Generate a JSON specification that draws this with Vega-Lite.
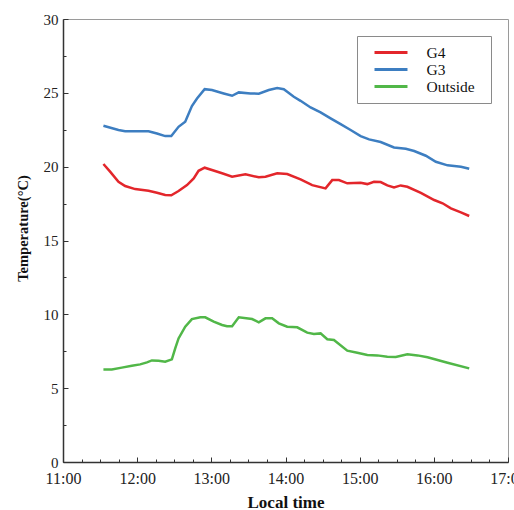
{
  "$schema": "https://vega.github.io/schema/vega-lite/v6.json",
  "width": 445,
  "height": 443,
  "autosize": "none",
  "padding": {"left": 63, "top": 19, "right": 6, "bottom": 48},
  "background": "white",
  "config": {
    "view": {"stroke": "#9a9a9a", "strokeWidth": 1},
    "font": "Liberation Serif"
  },
  "data": {
    "values": [
      {"hour": 11.545, "series": "G4", "temp": 20.18},
      {"hour": 11.635, "series": "G4", "temp": 19.66},
      {"hour": 11.748, "series": "G4", "temp": 18.98},
      {"hour": 11.838, "series": "G4", "temp": 18.69},
      {"hour": 11.973, "series": "G4", "temp": 18.48},
      {"hour": 12.153, "series": "G4", "temp": 18.37},
      {"hour": 12.267, "series": "G4", "temp": 18.23},
      {"hour": 12.378, "series": "G4", "temp": 18.08},
      {"hour": 12.46, "series": "G4", "temp": 18.06},
      {"hour": 12.558, "series": "G4", "temp": 18.35},
      {"hour": 12.672, "series": "G4", "temp": 18.75},
      {"hour": 12.762, "series": "G4", "temp": 19.2},
      {"hour": 12.828, "series": "G4", "temp": 19.72},
      {"hour": 12.91, "series": "G4", "temp": 19.93},
      {"hour": 13.008, "series": "G4", "temp": 19.77},
      {"hour": 13.145, "series": "G4", "temp": 19.55},
      {"hour": 13.28, "series": "G4", "temp": 19.32},
      {"hour": 13.46, "series": "G4", "temp": 19.48},
      {"hour": 13.64, "series": "G4", "temp": 19.28},
      {"hour": 13.73, "series": "G4", "temp": 19.32},
      {"hour": 13.888, "series": "G4", "temp": 19.55},
      {"hour": 14.023, "series": "G4", "temp": 19.5},
      {"hour": 14.203, "series": "G4", "temp": 19.14},
      {"hour": 14.36, "series": "G4", "temp": 18.75},
      {"hour": 14.54, "series": "G4", "temp": 18.53},
      {"hour": 14.63, "series": "G4", "temp": 19.09},
      {"hour": 14.72, "series": "G4", "temp": 19.09},
      {"hour": 14.833, "series": "G4", "temp": 18.87},
      {"hour": 15.013, "series": "G4", "temp": 18.91},
      {"hour": 15.103, "series": "G4", "temp": 18.82},
      {"hour": 15.193, "series": "G4", "temp": 18.98},
      {"hour": 15.283, "series": "G4", "temp": 18.96},
      {"hour": 15.373, "series": "G4", "temp": 18.73},
      {"hour": 15.463, "series": "G4", "temp": 18.6},
      {"hour": 15.553, "series": "G4", "temp": 18.73},
      {"hour": 15.643, "series": "G4", "temp": 18.64},
      {"hour": 15.825, "series": "G4", "temp": 18.23},
      {"hour": 16.005, "series": "G4", "temp": 17.74},
      {"hour": 16.118, "series": "G4", "temp": 17.52},
      {"hour": 16.23, "series": "G4", "temp": 17.18},
      {"hour": 16.365, "series": "G4", "temp": 16.9},
      {"hour": 16.477, "series": "G4", "temp": 16.66},
      {"hour": 11.545, "series": "G3", "temp": 22.77},
      {"hour": 11.748, "series": "G3", "temp": 22.48},
      {"hour": 11.838, "series": "G3", "temp": 22.4},
      {"hour": 12.153, "series": "G3", "temp": 22.4},
      {"hour": 12.267, "series": "G3", "temp": 22.25},
      {"hour": 12.378, "series": "G3", "temp": 22.07},
      {"hour": 12.46, "series": "G3", "temp": 22.07},
      {"hour": 12.558, "series": "G3", "temp": 22.7},
      {"hour": 12.648, "series": "G3", "temp": 23.04},
      {"hour": 12.738, "series": "G3", "temp": 24.1},
      {"hour": 12.807, "series": "G3", "temp": 24.62},
      {"hour": 12.91, "series": "G3", "temp": 25.25},
      {"hour": 13.008, "series": "G3", "temp": 25.19},
      {"hour": 13.167, "series": "G3", "temp": 24.96},
      {"hour": 13.28, "series": "G3", "temp": 24.8},
      {"hour": 13.37, "series": "G3", "temp": 25.03},
      {"hour": 13.527, "series": "G3", "temp": 24.96},
      {"hour": 13.64, "series": "G3", "temp": 24.94},
      {"hour": 13.775, "series": "G3", "temp": 25.19},
      {"hour": 13.888, "series": "G3", "temp": 25.32},
      {"hour": 13.977, "series": "G3", "temp": 25.25},
      {"hour": 14.023, "series": "G3", "temp": 25.07},
      {"hour": 14.112, "series": "G3", "temp": 24.73},
      {"hour": 14.203, "series": "G3", "temp": 24.46},
      {"hour": 14.338, "series": "G3", "temp": 24.01},
      {"hour": 14.473, "series": "G3", "temp": 23.68},
      {"hour": 14.608, "series": "G3", "temp": 23.27},
      {"hour": 14.743, "series": "G3", "temp": 22.88},
      {"hour": 14.878, "series": "G3", "temp": 22.48},
      {"hour": 15.013, "series": "G3", "temp": 22.07},
      {"hour": 15.127, "series": "G3", "temp": 21.85},
      {"hour": 15.283, "series": "G3", "temp": 21.67},
      {"hour": 15.463, "series": "G3", "temp": 21.3},
      {"hour": 15.622, "series": "G3", "temp": 21.21},
      {"hour": 15.735, "series": "G3", "temp": 21.06},
      {"hour": 15.892, "series": "G3", "temp": 20.74},
      {"hour": 16.027, "series": "G3", "temp": 20.33},
      {"hour": 16.185, "series": "G3", "temp": 20.09},
      {"hour": 16.365, "series": "G3", "temp": 20.0},
      {"hour": 16.477, "series": "G3", "temp": 19.86},
      {"hour": 11.545, "series": "Outside", "temp": 6.27},
      {"hour": 11.658, "series": "Outside", "temp": 6.27},
      {"hour": 11.793, "series": "Outside", "temp": 6.39},
      {"hour": 11.928, "series": "Outside", "temp": 6.52},
      {"hour": 12.04, "series": "Outside", "temp": 6.61},
      {"hour": 12.132, "series": "Outside", "temp": 6.75},
      {"hour": 12.198, "series": "Outside", "temp": 6.88},
      {"hour": 12.288, "series": "Outside", "temp": 6.86},
      {"hour": 12.378, "series": "Outside", "temp": 6.79},
      {"hour": 12.468, "series": "Outside", "temp": 6.95},
      {"hour": 12.513, "series": "Outside", "temp": 7.7},
      {"hour": 12.558, "series": "Outside", "temp": 8.37},
      {"hour": 12.648, "series": "Outside", "temp": 9.16},
      {"hour": 12.738, "series": "Outside", "temp": 9.68},
      {"hour": 12.852, "series": "Outside", "temp": 9.8},
      {"hour": 12.918, "series": "Outside", "temp": 9.8},
      {"hour": 13.032, "series": "Outside", "temp": 9.5},
      {"hour": 13.145, "series": "Outside", "temp": 9.28},
      {"hour": 13.212, "series": "Outside", "temp": 9.19},
      {"hour": 13.28, "series": "Outside", "temp": 9.19},
      {"hour": 13.37, "series": "Outside", "temp": 9.8},
      {"hour": 13.55, "series": "Outside", "temp": 9.68},
      {"hour": 13.64, "series": "Outside", "temp": 9.46},
      {"hour": 13.73, "series": "Outside", "temp": 9.73},
      {"hour": 13.82, "series": "Outside", "temp": 9.73},
      {"hour": 13.91, "series": "Outside", "temp": 9.39},
      {"hour": 14.023, "series": "Outside", "temp": 9.16},
      {"hour": 14.158, "series": "Outside", "temp": 9.12},
      {"hour": 14.293, "series": "Outside", "temp": 8.76},
      {"hour": 14.383, "series": "Outside", "temp": 8.67},
      {"hour": 14.473, "series": "Outside", "temp": 8.71},
      {"hour": 14.563, "series": "Outside", "temp": 8.31},
      {"hour": 14.653, "series": "Outside", "temp": 8.26},
      {"hour": 14.833, "series": "Outside", "temp": 7.54},
      {"hour": 14.968, "series": "Outside", "temp": 7.4},
      {"hour": 15.103, "series": "Outside", "temp": 7.24},
      {"hour": 15.238, "series": "Outside", "temp": 7.22},
      {"hour": 15.373, "series": "Outside", "temp": 7.13},
      {"hour": 15.487, "series": "Outside", "temp": 7.11},
      {"hour": 15.643, "series": "Outside", "temp": 7.29},
      {"hour": 15.78, "series": "Outside", "temp": 7.22},
      {"hour": 15.915, "series": "Outside", "temp": 7.09},
      {"hour": 16.185, "series": "Outside", "temp": 6.72},
      {"hour": 16.477, "series": "Outside", "temp": 6.34}
    ]
  },
  "mark": {"type": "line", "strokeWidth": 2.5, "clip": true},
  "encoding": {
    "x": {
      "field": "hour",
      "type": "quantitative",
      "scale": {"domain": [11, 17], "nice": false, "zero": false},
      "axis": {
        "title": "Local time",
        "titleFont": "Liberation Serif",
        "titleFontSize": 17,
        "titleFontWeight": "bold",
        "titleColor": "#111",
        "titlePadding": 6,
        "values": [11, 11.25, 11.5, 11.75, 12, 12.25, 12.5, 12.75, 13, 13.25, 13.5, 13.75, 14, 14.25, 14.5, 14.75, 15, 15.25, 15.5, 15.75, 16, 16.25, 16.5, 16.75, 17],
        "labelExpr": "datum.value % 1 === 0 ? datum.value + ':00' : ''",
        "labelFont": "Liberation Serif",
        "labelFontSize": 16,
        "labelColor": "#222",
        "labelFlush": false,
        "labelOverlap": false,
        "labelPadding": 13,
        "grid": false,
        "domainColor": "#333",
        "domainWidth": 1.5,
        "tickColor": "#333",
        "tickWidth": 1,
        "tickSize": {"condition": {"test": "datum.value % 1 === 0", "value": -5}, "value": -3}
      }
    },
    "y": {
      "field": "temp",
      "type": "quantitative",
      "scale": {"domain": [0, 30], "nice": false},
      "axis": {
        "title": "Temperature(°C)",
        "titleFont": "Liberation Serif",
        "titleFontSize": 14.5,
        "titleFontWeight": "bold",
        "titleColor": "#111",
        "titlePadding": 13,
        "titleY": 209,
        "values": [0, 2.5, 5, 7.5, 10, 12.5, 15, 17.5, 20, 22.5, 25, 27.5, 30],
        "labelExpr": "datum.value % 5 === 0 ? datum.label : ''",
        "labelFont": "Liberation Serif",
        "labelFontSize": 15,
        "labelColor": "#222",
        "labelOverlap": false,
        "labelPadding": 10,
        "grid": false,
        "domainColor": "#333",
        "domainWidth": 1.5,
        "tickColor": "#333",
        "tickWidth": 1,
        "tickSize": {"condition": {"test": "datum.value % 5 === 0", "value": -5}, "value": -3}
      }
    },
    "color": {
      "field": "series",
      "type": "nominal",
      "scale": {"domain": ["G4", "G3", "Outside"], "range": ["#e3262b", "#3d7ec1", "#51b748"]},
      "legend": {
        "title": " ",
        "titleOrient": "right",
        "titlePadding": 8,
        "titleFontSize": 12,
        "orient": "none",
        "legendX": 294,
        "legendY": 17,
        "strokeColor": "#8a8a8a",
        "fillColor": "white",
        "padding": 8,
        "symbolType": "M-2.5,0H2.5",
        "symbolSize": 174,
        "symbolStrokeWidth": 3,
        "symbolOffset": 17.5,
        "labelOffset": 27,
        "labelFont": "Liberation Serif",
        "labelFontSize": 15.5,
        "labelColor": "#111",
        "rowPadding": 0
      }
    }
  }
}
